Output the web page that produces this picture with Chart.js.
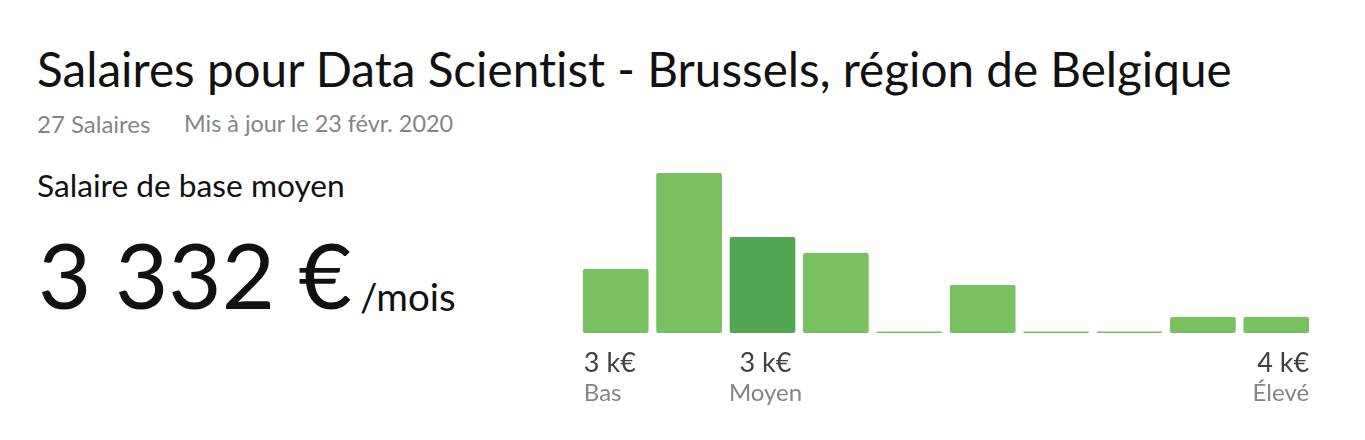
<!DOCTYPE html>
<html>
<head>
<meta charset="utf-8">
<script src="https://cdn.jsdelivr.net/npm/chart.js@4"></script>
<style>
html, body { margin: 0; padding: 0; background: #fff; }
body { width: 1365px; height: 440px; position: relative; overflow: hidden; font-family: Lato, sans-serif; font-variant-ligatures: none; }
.t { position: absolute; white-space: nowrap; line-height: 1; }
#wrap { position: absolute; left: 579.3px; top: 160px; width: 734px; height: 250px; }
</style>
</head>
<body>
<div class="t" style="left:37px;top:45px;font-size:47.65px;color:#111">Salaires pour Data Scientist - Brussels, région de Belgique</div>
<div class="t" style="left:37px;top:112px;font-size:24px;color:#858585">27 Salaires</div>
<div class="t" style="left:184px;top:112px;font-size:23.4px;color:#858585">Mis à jour le 23 févr. 2020</div>
<div class="t" style="left:37px;top:170px;font-size:31.7px;color:#111">Salaire de base moyen</div>
<div class="t" style="left:38px;top:228px;font-size:92px;color:#111">3 332 €</div>
<div class="t" style="left:360px;top:277px;font-size:38.5px;color:#111">/mois</div>
<div id="wrap"><canvas id="c"></canvas></div>
<script>
const categories = ['b1', 'b2', 'b3', 'b4', 'b5', 'b6', 'b7', 'b8', 'b9', 'b10'];
const counts = [4, 10, 6, 5, 0.1, 3, 0.1, 0.1, 1, 1];
const barColors = ['#79c060', '#79c060', '#52a651', '#79c060', '#79c060', '#79c060', '#79c060', '#79c060', '#79c060', '#79c060'];
const tickValues = ['3 k€', '', '3 k€', '', '', '', '', '', '', '4 k€'];
const tickNames = ['Bas', '', 'Moyen', '', '', '', '', '', '', 'Élevé'];

// draws the two line labels under the bars at the first, average and last bar
const bottomLabels = {
    id: 'bottomLabels',
    afterDraw(chart) {
        const ctx = chart.ctx;
        const meta = chart.getDatasetMeta(0);
        ctx.save();
        ctx.textBaseline = 'alphabetic';
        ctx.fontKerning = 'normal';
        categories.forEach((_, i) => {
            if (!tickValues[i]) return;
            const bar = meta.data[i];
            const half = bar.width / 2;
            let x = bar.x + 3, align = 'center';
            if (i === 0) { x = bar.x - half + 1; align = 'left'; }
            if (i === categories.length - 1) { x = bar.x + half; align = 'right'; }
            ctx.textAlign = align;
            ctx.font = '27px Lato';
            ctx.fillStyle = '#404040';
            ctx.fillText(tickValues[i], x, 212);
            ctx.font = '24px Lato';
            ctx.fillStyle = '#858585';
            ctx.fillText(tickNames[i], x, 241);
        });
        ctx.restore();
    }
};

new Chart(document.getElementById('c'), {
    type: 'bar',
    data: {
        labels: categories,
        datasets: [{
            data: counts,
            backgroundColor: barColors,
            borderRadius: 2,
            borderSkipped: false,
            categoryPercentage: 1,
            barPercentage: 0.895
        }]
    },
    options: {
        responsive: true,
        maintainAspectRatio: false,
        animation: false,
        layout: { padding: { left: 0, right: 0, top: 13, bottom: 77 } },
        plugins: { legend: { display: false }, tooltip: { enabled: false } },
        scales: {
            x: { display: false },
            y: { display: false, min: 0, max: 10 }
        }
    },
    plugins: [bottomLabels]
});
</script>
</body>
</html>
